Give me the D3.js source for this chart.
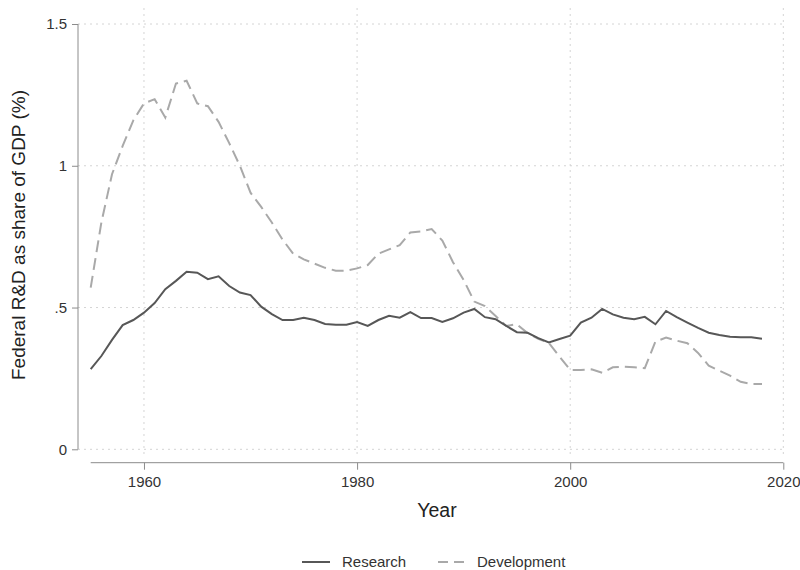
<!DOCTYPE html>
<html><head><meta charset="utf-8">
<script src="https://cdn.jsdelivr.net/npm/d3@7"></script>
<style>body{margin:0;background:#fff}svg{display:block}text{font-family:"Liberation Sans",Arial,sans-serif}</style>
</head><body><svg id="c" width="800" height="570"></svg>
<script>
const years = d3.range(1955, 2019);
const research = [0.283,0.329,0.386,0.438,0.456,0.482,0.516,0.565,0.594,0.626,0.623,0.600,0.610,0.576,0.553,0.544,0.503,0.477,0.456,0.456,0.464,0.456,0.442,0.439,0.439,0.449,0.435,0.456,0.471,0.464,0.484,0.463,0.463,0.449,0.462,0.482,0.495,0.466,0.459,0.435,0.413,0.411,0.392,0.377,0.389,0.401,0.447,0.464,0.495,0.476,0.464,0.459,0.467,0.441,0.488,0.466,0.447,0.428,0.411,0.403,0.397,0.395,0.395,0.390];
const development = [0.57,0.80,0.97,1.07,1.16,1.22,1.235,1.17,1.29,1.30,1.22,1.21,1.155,1.08,1.00,0.905,0.855,0.80,0.74,0.69,0.67,0.655,0.64,0.63,0.63,0.638,0.65,0.69,0.705,0.72,0.765,0.768,0.777,0.736,0.66,0.597,0.521,0.505,0.47,0.435,0.441,0.41,0.39,0.375,0.327,0.28,0.28,0.282,0.27,0.289,0.291,0.289,0.286,0.38,0.394,0.383,0.374,0.34,0.295,0.277,0.26,0.238,0.23,0.23];
const xTicks = [1960,1980,2000,2020];
const yTicks = [0,0.5,1,1.5];
const yTickLabels = ["0",".5","1","1.5"];
const seriesNames = ["Research","Development"];

const svg = d3.select("#c");
const x = d3.scaleLinear().domain([1955,2020]).range([90.7,783.3]);
const y = d3.scaleLinear().domain([0,1.5]).range([449.3,24]);

// gridlines
const g = svg.append("g");
g.selectAll(".hg").data(yTicks).join("line")
  .attr("x1",78).attr("x2",785).attr("y1",d=>y(d)).attr("y2",d=>y(d))
  .attr("stroke","#d4d4d4").attr("stroke-width",1).attr("stroke-dasharray","2,4");
g.selectAll(".vg").data(xTicks).join("line")
  .attr("x1",d=>x(d)).attr("x2",d=>x(d)).attr("y1",8).attr("y2",456)
  .attr("stroke","#d4d4d4").attr("stroke-width",1).attr("stroke-dasharray","2,4");

// y axis
const yAxis = d3.axisLeft(y).tickValues(yTicks).tickFormat((d,i)=>yTickLabels[i]).tickSize(6).tickPadding(5);
const ya = svg.append("g").attr("transform","translate(78,0)").call(yAxis);
ya.select(".domain").attr("stroke","#8c8c8c").attr("d",`M0,${y(1.5)}V${y(0)}`);
ya.selectAll(".tick line").attr("stroke","#8c8c8c");
ya.selectAll("text").attr("font-size",15).attr("fill","#333");

// x axis
const xAxis = d3.axisBottom(x).tickValues(xTicks).tickFormat(d3.format("d")).tickSize(7).tickPadding(7);
const xa = svg.append("g").attr("transform","translate(0,462.7)").call(xAxis);
xa.select(".domain").attr("stroke","#8c8c8c").attr("d",`M${x(1955)},0H${x(2020)}`);
xa.selectAll(".tick line").attr("stroke","#8c8c8c");
xa.selectAll("text").attr("font-size",15).attr("fill","#333");

// lines
const line = d3.line().x((d,i)=>x(years[i])).y(d=>y(d));
svg.append("path").datum(development).attr("d",line).attr("fill","none")
  .attr("stroke","#a9a9a9").attr("stroke-width",2).attr("stroke-dasharray","12,6");
svg.append("path").datum(research).attr("d",line).attr("fill","none")
  .attr("stroke","#575757").attr("stroke-width",2);

// titles
svg.append("text").attr("x",437).attr("y",517).attr("text-anchor","middle")
  .attr("font-size",19.5).attr("fill","#222").text("Year");
svg.append("text").attr("transform","translate(25,235) rotate(-90)").attr("text-anchor","middle")
  .attr("font-size",19).attr("fill","#222").text("Federal R&D as share of GDP (%)");

// legend
const leg = svg.append("g");
leg.append("line").attr("x1",302).attr("x2",330).attr("y1",562).attr("y2",562)
  .attr("stroke","#575757").attr("stroke-width",2);
leg.append("text").attr("x",342).attr("y",567).attr("font-size",15).attr("fill","#333").text(seriesNames[0]);
leg.append("line").attr("x1",438).attr("x2",466).attr("y1",562).attr("y2",562)
  .attr("stroke","#a9a9a9").attr("stroke-width",2).attr("stroke-dasharray","10,6");
leg.append("text").attr("x",477).attr("y",567).attr("font-size",15).attr("fill","#333").text(seriesNames[1]);
</script></body></html>
